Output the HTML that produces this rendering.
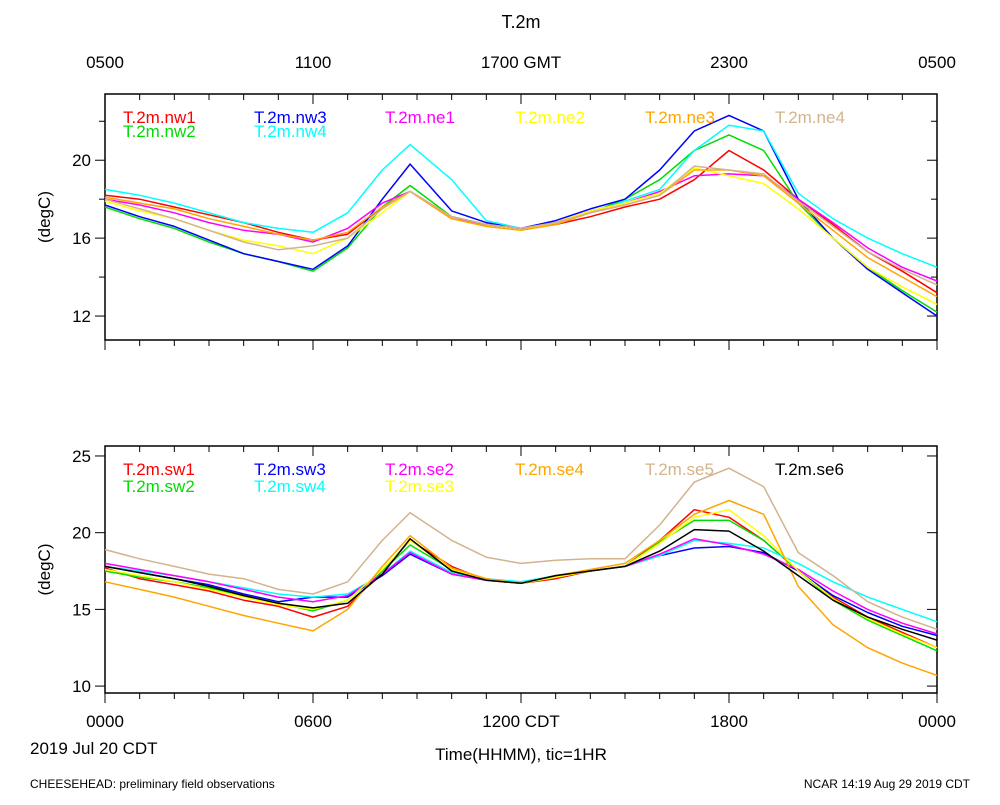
<!DOCTYPE html>
<html><head><meta charset="utf-8"><style>
body{margin:0;background:#fff;font-family:"Liberation Sans",sans-serif}
svg text{font-family:"Liberation Sans",sans-serif}
</style></head><body>
<svg id="c" width="1000" height="800" xmlns="http://www.w3.org/2000/svg">
<text x="521" y="28" font-size="18" text-anchor="middle">T.2m</text>
<text x="521" y="760" font-size="17" text-anchor="middle">Time(HHMM), tic=1HR</text>
<text x="30" y="754" font-size="17">2019 Jul 20 CDT</text>
<text x="30" y="788" font-size="12">CHEESEHEAD: preliminary field observations</text>
<text x="970" y="788" font-size="12" text-anchor="end">NCAR 14:19 Aug 29 2019 CDT</text>
</svg>
<script>
const hours=[0,1,2,3,4,5,6,7,8,8.8,10,11,12,13,14,15,16,17,18,19,20,21,22,23,24];
const topNames=["T.2m.nw1","T.2m.nw2","T.2m.nw3","T.2m.nw4","T.2m.ne1","T.2m.ne2","T.2m.ne3","T.2m.ne4"];
const botNames=["T.2m.sw1","T.2m.sw2","T.2m.sw3","T.2m.sw4","T.2m.se2","T.2m.se3","T.2m.se4","T.2m.se5","T.2m.se6"];
const nw1=[18.2,18.0,17.6,17.2,16.8,16.3,15.9,16.2,17.6,18.4,17.1,16.7,16.5,16.7,17.1,17.6,18.0,19.0,20.5,19.5,18.0,16.7,15.3,14.3,13.2];
const nw2=[17.6,17.0,16.5,15.8,15.2,14.8,14.3,15.5,17.6,18.7,17.1,16.7,16.5,16.8,17.3,18.0,19.0,20.5,21.3,20.5,17.8,16.0,14.5,13.3,12.2];
const nw3=[17.7,17.1,16.6,15.9,15.2,14.8,14.4,15.6,18.0,19.8,17.4,16.8,16.5,16.9,17.5,18.0,19.5,21.5,22.3,21.5,18.0,16.0,14.4,13.2,12.0];
const nw4=[18.5,18.2,17.8,17.3,16.8,16.5,16.3,17.3,19.5,20.8,19.0,16.9,16.5,16.8,17.3,17.9,18.5,20.5,21.8,21.5,18.3,17.0,16.0,15.2,14.5];
const ne1=[18.0,17.7,17.3,16.8,16.4,16.2,15.8,16.5,17.8,18.4,17.0,16.7,16.5,16.8,17.4,17.8,18.4,19.2,19.3,19.2,18.0,16.8,15.5,14.5,13.8];
const ne2=[17.9,17.4,17.0,16.4,15.9,15.6,15.2,16.0,17.3,18.4,17.0,16.6,16.4,16.8,17.4,17.8,18.3,19.6,19.2,18.8,17.5,16.0,14.5,13.5,12.6];
const ne3=[18.1,17.8,17.5,17.0,16.6,16.2,15.9,16.3,17.6,18.4,17.0,16.6,16.4,16.7,17.3,17.7,18.2,19.5,19.5,19.2,17.8,16.4,15.0,14.0,13.0];
const ne4=[18.0,17.5,17.0,16.4,15.8,15.4,15.6,16.0,17.5,18.4,17.1,16.7,16.5,16.8,17.3,17.7,18.2,19.7,19.5,19.3,17.9,16.6,15.3,14.4,13.6];
const sw1=[17.7,17.0,16.6,16.2,15.6,15.2,14.5,15.2,17.5,19.5,17.8,16.9,16.7,17.0,17.5,17.8,19.5,21.5,21.0,19.5,17.5,15.8,14.5,13.5,12.5];
const sw2=[17.5,17.1,16.8,16.4,15.9,15.4,14.9,15.6,17.5,19.2,17.6,16.9,16.7,17.1,17.5,17.8,19.4,20.8,20.8,19.5,17.5,15.6,14.3,13.3,12.3];
const sw3=[17.8,17.4,17.0,16.6,16.0,15.5,15.8,15.8,17.2,18.6,17.3,16.9,16.7,17.2,17.5,17.8,18.5,19.0,19.1,18.7,17.5,15.9,14.8,13.9,13.3];
const sw4=[17.8,17.5,17.2,16.8,16.4,16.0,15.8,16.0,17.3,18.8,17.4,17.0,16.8,17.2,17.5,17.8,18.5,19.5,19.3,19.0,18.0,16.8,15.8,15.0,14.2];
const se2=[18.0,17.6,17.2,16.8,16.3,15.8,15.5,15.9,17.3,18.7,17.3,16.9,16.7,17.2,17.5,17.8,18.6,19.6,19.2,18.6,17.6,16.2,15.0,14.1,13.4];
const se3=[17.6,17.2,16.8,16.3,15.8,15.3,15.0,15.6,17.6,19.5,17.6,16.9,16.7,17.1,17.5,17.8,19.3,21.0,21.5,19.8,17.5,15.7,14.4,13.4,12.5];
const se4=[16.8,16.3,15.8,15.2,14.6,14.1,13.6,15.0,17.8,19.8,17.7,17.0,16.7,17.2,17.6,18.0,19.5,21.2,22.1,21.2,16.5,14.0,12.5,11.5,10.7];
const se5=[18.9,18.3,17.8,17.3,17.0,16.3,16.0,16.8,19.5,21.3,19.5,18.4,18.0,18.2,18.3,18.3,20.5,23.3,24.2,23.0,18.7,17.2,15.5,14.5,13.7];
const se6=[17.8,17.4,17.0,16.5,15.9,15.4,15.1,15.4,17.3,19.6,17.5,16.9,16.7,17.2,17.5,17.8,18.8,20.2,20.1,18.8,17.2,15.6,14.5,13.7,13.0];
const topSeries=[nw1,nw2,nw3,nw4,ne1,ne2,ne3,ne4];
const botSeries=[sw1,sw2,sw3,sw4,se2,se3,se4,se5,se6];
const topColors=["#ff0000","#00dd00","#0000ff","#00ffff","#ff00ff","#ffff00","#ffa500","#d2b48c"];
const botColors=["#ff0000","#00dd00","#0000ff","#00ffff","#ff00ff","#ffff00","#ffa500","#d2b48c","#000000"];
const topTicks=[12,16,20];const botTicks=[10,15,20,25];
const topAxisLabels=["0500","1100","1700 GMT","2300","0500"];
const botAxisLabels=["0000","0600","1200 CDT","1800","0000"];
const NS="http://www.w3.org/2000/svg",svg=document.getElementById('c');
function mk(t,a){const e=document.createElementNS(NS,t);for(const k in a)e.setAttribute(k,a[k]);svg.appendChild(e);return e;}
const X0=105,X1=937;const xs=h=>X0+(X1-X0)*h/24;
function panel(y0,y1,vmin,vmax,ticks,minor,series,colors,names,pre,legPos){
  const ys=v=>y1-(v-vmin)/(vmax-vmin)*(y1-y0);
  const box=mk('rect',{x:X0,y:y0,width:X1-X0,height:y1-y0,fill:'none',stroke:'#000','stroke-width':1.5});
  
  for(let h=0;h<=24;h++){const L=h%6==0?10:6;
    const t1=mk('line',{x1:xs(h),x2:xs(h),y1:y1,y2:y1+L,stroke:'#000'});
    
    const t2=mk('line',{x1:xs(h),x2:xs(h),y1:y0,y2:y0+L,stroke:'#000'});
    }
  for(let v=Math.ceil(vmin/minor)*minor;v<=vmax;v+=minor){const major=ticks.includes(v);const L=major?10:6;
    const a=mk('line',{x1:X0-L,x2:X0,y1:ys(v),y2:ys(v),stroke:'#000'});
    
    const b=mk('line',{x1:X1-L,x2:X1,y1:ys(v),y2:ys(v),stroke:'#000'});
    }
  ticks.forEach(v=>{const t=mk('text',{x:X0-14,y:ys(v)+6,'font-size':17,'text-anchor':'end'});t.textContent=v;
    });
  const yt=mk('text',{x:0,y:0,'font-size':17,'text-anchor':'middle',transform:`translate(50,${(y0+y1)/2}) rotate(-90)`});yt.textContent='(degC)';
  
  series.forEach((s,i)=>{const d=s.map((v,j)=>(j?'L':'M')+xs(hours[j]).toFixed(1)+','+ys(v).toFixed(1)).join('');
    const p=mk('path',{d:d,fill:'none',stroke:colors[i],'stroke-width':1.5,'stroke-linejoin':'round'});
    });
  names.forEach((n,i)=>{const t=mk('text',{x:legPos[i][0],y:legPos[i][1],'font-size':17,fill:colors[i]});t.textContent=n;
    });
}
panel(94,340,10.77,23.4,topTicks,2,topSeries,topColors,topNames,'top',
 [[123,123],[123,137],[254,123],[254,137],[385,123],[515,123],[645,123],[775,123]]);
panel(446,693,9.55,25.65,botTicks,5,botSeries,botColors,botNames,'bottom',
 [[123,475],[123,492],[254,475],[254,492],[385,475],[385,492],[515,475],[645,475],[775,475]]);
topAxisLabels.forEach((l,i)=>{const t=mk('text',{x:xs(i*6),y:68,'font-size':17,'text-anchor':'middle'});t.textContent=l;
  });
botAxisLabels.forEach((l,i)=>{const t=mk('text',{x:xs(i*6),y:727,'font-size':17,'text-anchor':'middle'});t.textContent=l;
  });
</script>
</body></html>
